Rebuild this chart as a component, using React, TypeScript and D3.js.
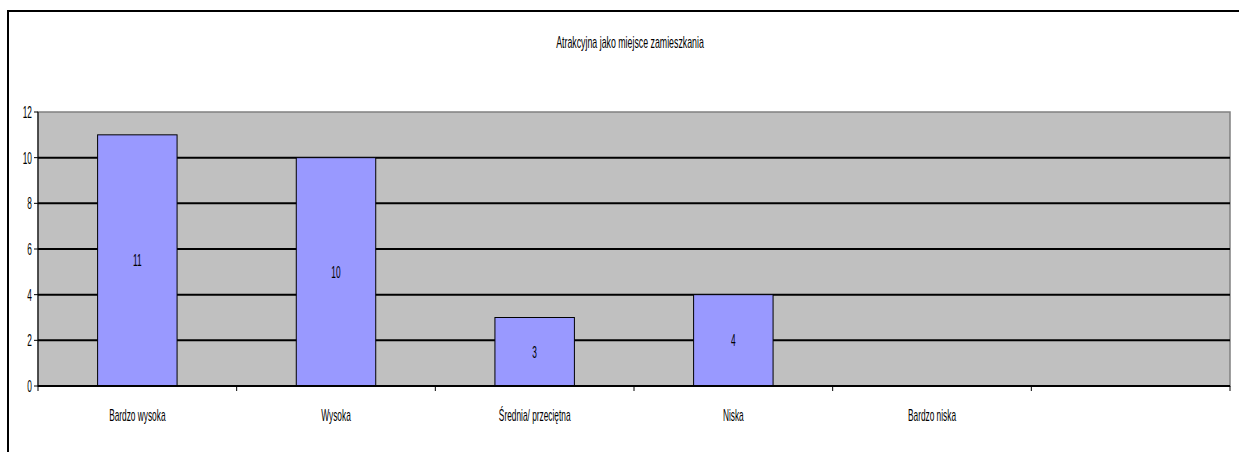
import React from "react";
import * as d3 from "d3";

const categories = ["Bardzo wysoka", "Wysoka", "Średnia/ przeciętna", "Niska", "Bardzo niska", ""];
const values: (number | null)[] = [11, 10, 3, 4, null, null];
const yTicks = [0, 2, 4, 6, 8, 10, 12];
const title = "Atrakcyjna jako miejsce zamieszkania";

const W = 1239;
const H = 452;
const FONT = "'Liberation Sans', Arial, sans-serif";

function T({ x, y, anchor, children, size = 16, sx = 0.52 }: { x: number; y: number; anchor: string; children: React.ReactNode; size?: number; sx?: number }) {
  return (
    <text
      transform={`translate(${x},${y}) scale(${sx},1)`}
      textAnchor={anchor}
      fontFamily={FONT}
      fontSize={size}
      fill="black"
    >
      {children}
    </text>
  );
}

export default function App() {
  const left = 38, right = 1230, top = 112, bottom = 386;
  const x = d3.scaleBand<string>().domain(categories.map((c, i) => String(i))).range([left, right]).padding(0);
  const y = d3.scaleLinear().domain([0, 12]).range([bottom, top]);
  const step = x.step();
  const barW = step * 0.4;
  const boundaries = d3.range(categories.length + 1).map((i) => left + i * step);

  return (
    <svg width={W} height={H} style={{ position: "absolute", left: 0, top: 0, display: "block" }}>
      <rect x={0} y={0} width={W} height={H} fill="white" />
      <rect x={8} y={11} width={W + 20} height={H + 20} fill="white" stroke="black" strokeWidth={2} />
      <T x={630} y={48} anchor="middle" sx={0.55}>{title}</T>
      <rect x={left} y={top} width={right - left} height={bottom - top} fill="#C0C0C0" stroke="#808080" strokeWidth={1.5} />
      {yTicks.filter((t) => t > 0 && t < 12).map((t) => (
        <line key={t} x1={left} x2={right} y1={y(t)} y2={y(t)} stroke="black" strokeWidth={2} />
      ))}
      <line x1={left} x2={left} y1={top} y2={bottom} stroke="black" strokeWidth={1} />
      {values.map((v, i) =>
        v == null ? null : (
          <g key={i}>
            <rect
              x={(x(String(i)) as number) + step / 2 - barW / 2}
              y={y(v)}
              width={barW}
              height={bottom - y(v)}
              fill="#9999FF"
              stroke="black"
              strokeWidth={1}
            />
            <T x={(x(String(i)) as number) + step / 2} y={(y(v) + bottom) / 2 + 6} anchor="middle">{v}</T>
          </g>
        )
      )}
      <line x1={left} x2={right} y1={bottom} y2={bottom} stroke="black" strokeWidth={2} />
      {yTicks.map((t) => (
        <g key={t}>
          <line x1={left - 4} x2={left} y1={y(t)} y2={y(t)} stroke="black" strokeWidth={1} />
          <T x={left - 6} y={y(t) + 6} anchor="end">{t}</T>
        </g>
      ))}
      {boundaries.map((b, i) => (
        <line key={i} x1={b} x2={b} y1={bottom} y2={bottom + 5} stroke="black" strokeWidth={1} />
      ))}
      {categories.map((c, i) => (
        <T key={i} x={(x(String(i)) as number) + step / 2} y={421} anchor="middle">{c}</T>
      ))}
    </svg>
  );
}
